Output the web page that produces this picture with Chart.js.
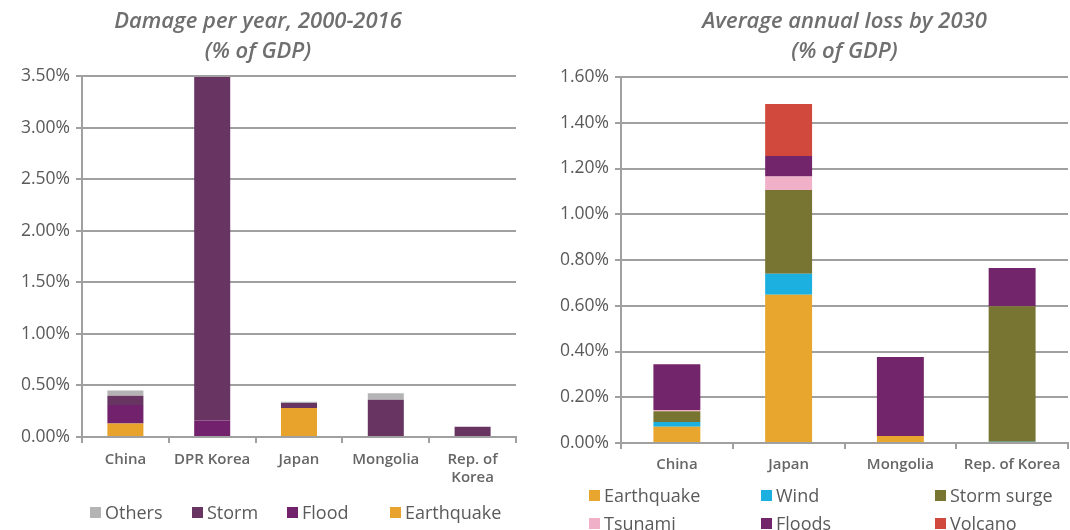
<!DOCTYPE html>
<html>
<head>
<meta charset="utf-8">
<script src="https://cdn.jsdelivr.net/npm/chart.js@4.4.1/dist/chart.umd.min.js"></script>
<style>
    html, body { margin: 0; padding: 0; background: #fff; }
    body { width: 1070px; height: 530px; position: relative; overflow: hidden; font-family: 'Open Sans', sans-serif; }
    #left-wrap { position: absolute; left: 0; top: 0; width: 518px; height: 530px; }
    #right-wrap { position: absolute; left: 540px; top: 0; width: 530px; height: 530px; }
    .legend-item { position: absolute; font-size: 18px; color: #5a5a5a; line-height: 24px; white-space: nowrap; }
    .legend-item span { display: inline-block; width: 11px; height: 11px; margin-right: 4px; vertical-align: 1px; }
</style>
</head>
<body>
<div id="left-wrap"><canvas id="damage"></canvas></div>
<div id="right-wrap"><canvas id="loss"></canvas></div>
<div id="damage-legend"></div>
<div id="loss-legend"></div>
<script>
// Damage per year, 2000-2016 (% of GDP)
const damageCountries = ['China', 'DPR Korea', 'Japan', 'Mongolia', ['Rep. of', 'Korea']];
const damageEarthquake = [0.13, 0, 0.28, 0, 0];
const damageFlood = [0.18, 0.16, 0, 0, 0];
const damageStorm = [0.09, 3.33, 0.05, 0.36, 0.10];
const damageOthers = [0.05, 0, 0.012, 0.065, 0];

// Average annual loss by 2030 (% of GDP)
const lossCountries = ['China', 'Japan', 'Mongolia', 'Rep. of Korea'];
const lossEarthquake = [0.071, 0.648, 0.031, 0];
const lossWind = [0.021, 0.092, 0, 0.005];
const lossStormSurge = [0.047, 0.366, 0, 0.593];
const lossTsunami = [0.005, 0.059, 0, 0];
const lossFloods = [0.20, 0.09, 0.345, 0.167];
const lossVolcano = [0, 0.227, 0, 0];

const gridColor = '#a0a0a0';
const fontFamily = "'Open Sans', sans-serif";

function percentTick(value) {
    return value.toFixed(2) + '%';
}

function makeScales(yMax, yStep, yWidth, xPad) {
    return {
        x: {
            stacked: true,
            grid: { offset: true, drawOnChartArea: false, color: gridColor, lineWidth: 2, tickLength: 6 },
            border: { color: gridColor, width: 2 },
            ticks: { color: '#666', font: { family: fontFamily, size: 15, weight: '600' }, padding: xPad, maxRotation: 0 }
        },
        y: {
            stacked: true,
            min: 0,
            max: yMax,
            afterFit: (scale) => { scale.width = yWidth; },
            grid: { color: gridColor, lineWidth: 2, tickLength: 6 },
            border: { color: gridColor, width: 2 },
            ticks: { stepSize: yStep, callback: percentTick, color: '#5a5a5a', font: { family: fontFamily, size: 17.5 }, padding: 6 }
        }
    };
}

const titleFont = { family: fontFamily, size: 22, style: 'italic', weight: '600', lineHeight: 1.364 };

const damageSeries = [
    { label: 'Earthquake', data: damageEarthquake, backgroundColor: '#e8a32d' },
    { label: 'Flood', data: damageFlood, backgroundColor: '#72226c' },
    { label: 'Storm', data: damageStorm, backgroundColor: '#683562' },
    { label: 'Others', data: damageOthers, backgroundColor: '#b4b4b4' }
];

new Chart(document.getElementById('damage'), {
    type: 'bar',
    data: { labels: damageCountries, datasets: damageSeries },
    options: {
        responsive: true,
        maintainAspectRatio: false,
        animation: false,
        datasets: { bar: { categoryPercentage: 1, barPercentage: 0.415 } },
        layout: { padding: { top: 2, right: 2, left: 0, bottom: 35 } },
        scales: makeScales(3.5, 0.5, 82, 8),
        plugins: {
            tooltip: { enabled: false },
            title: {
                display: true,
                text: ['Damage per year, 2000-2016', '(% of GDP)'],
                color: '#6f6f6f',
                font: titleFont,
                padding: { top: 5, bottom: 9 }
            },
            legend: { display: false }
        }
    }
});

const lossSeries = [
    { label: 'Earthquake', data: lossEarthquake, backgroundColor: '#e8a62e' },
    { label: 'Wind', data: lossWind, backgroundColor: '#1cb0e0' },
    { label: 'Storm surge', data: lossStormSurge, backgroundColor: '#787532' },
    { label: 'Tsunami', data: lossTsunami, backgroundColor: '#f0b0c8' },
    { label: 'Floods', data: lossFloods, backgroundColor: '#72256a' },
    { label: 'Volcano', data: lossVolcano, backgroundColor: '#d1493c' }
];

new Chart(document.getElementById('loss'), {
    type: 'bar',
    data: { labels: lossCountries, datasets: lossSeries },
    options: {
        responsive: true,
        maintainAspectRatio: false,
        animation: false,
        datasets: { bar: { categoryPercentage: 1, barPercentage: 0.42 } },
        layout: { padding: { top: 2, right: 2, left: 0, bottom: 49 } },
        scales: makeScales(1.6, 0.2, 81, 7),
        plugins: {
            tooltip: { enabled: false },
            title: {
                display: true,
                fullSize: false,
                text: ['Average annual loss by 2030', '(% of GDP)'],
                color: '#6f6f6f',
                font: titleFont,
                padding: { top: 5, bottom: 10 }
            },
            legend: { display: false }
        }
    }
});

function addLegendItem(container, series, left, top) {
    const item = document.createElement('div');
    item.className = 'legend-item';
    item.style.left = left + 'px';
    item.style.top = top + 'px';
    item.innerHTML = '<span style="background:' + series.backgroundColor + '"></span>' + series.label;
    container.appendChild(item);
}

// left legend: one row, top series first
const damageLegendX = [90, 192, 287, 390];
const damageLegend = document.getElementById('damage-legend');
damageSeries.slice().reverse().forEach((series, i) => {
    addLegendItem(damageLegend, series, damageLegendX[i], 500);
});

// right legend: 3-column grid
const lossLegendX = [589, 761, 935];
const lossLegendY = [483, 511];
const lossLegend = document.getElementById('loss-legend');
lossSeries.forEach((series, i) => {
    addLegendItem(lossLegend, series, lossLegendX[i % 3], lossLegendY[Math.floor(i / 3)]);
});
</script>
</body>
</html>
